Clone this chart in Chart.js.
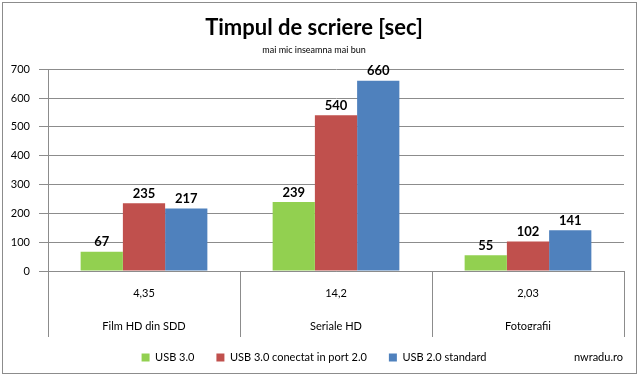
<!DOCTYPE html>
<html>
<head>
<meta charset="utf-8">
<script src="https://cdn.jsdelivr.net/npm/chart.js@4/dist/chart.umd.min.js"></script>
<style>
html,body{margin:0;padding:0;background:#fff;}
#wrap{width:639px;height:378px;position:relative;}
</style>
</head>
<body>
<div id="wrap"><canvas id="c" width="639" height="378"></canvas></div>
<script>
const categories = ["Film HD din SDD", "Seriale HD", "Fotografii"];
const sizes = ["4,35", "14,2", "2,03"];
const usb3 = [67, 239, 55];
const usb3in2 = [235, 540, 102];
const usb2 = [217, 660, 141];
const seriesNames = ["USB 3.0", "USB 3.0 conectat in port 2.0", "USB 2.0 standard"];
const yTicks = [0, 100, 200, 300, 400, 500, 600, 700];

const FONT = "Lato, 'Open Sans', sans-serif";

const frame = {
  id: 'frame',
  beforeDraw(chart) {
    const ctx = chart.ctx;
    ctx.save();
    ctx.fillStyle = '#fff';
    ctx.fillRect(0, 0, chart.width, chart.height);
    ctx.strokeStyle = '#8c8c8c';
    ctx.lineWidth = 1;
    ctx.strokeRect(2.5, 2.5, 634, 371);
    ctx.restore();
  },
  afterDraw(chart) {
    const ctx = chart.ctx;
    ctx.save();
    ctx.font = "11px " + FONT;
    ctx.fillStyle = '#000';
    ctx.textAlign = 'right';
    ctx.textBaseline = 'middle';
    ctx.fillText('nwradu.ro', 623, 357);
    ctx.restore();
  }
};

const valueLabels = {
  id: 'valueLabels',
  afterDatasetsDraw(chart) {
    const ctx = chart.ctx;
    ctx.save();
    ctx.font = "bold 13px " + FONT;
    ctx.fillStyle = '#000';
    ctx.textAlign = 'center';
    ctx.textBaseline = 'bottom';
    chart.data.datasets.forEach((ds, i) => {
      const meta = chart.getDatasetMeta(i);
      meta.data.forEach((bar, j) => {
        ctx.fillText(String(ds.data[j]), bar.x, bar.y - 3);
      });
    });
    ctx.restore();
  }
};

new Chart(document.getElementById('c'), {
  type: 'bar',
  data: {
    labels: categories.map((c, i) => [sizes[i], c]),
    datasets: [
      { label: seriesNames[0], data: usb3, backgroundColor: '#92D050' },
      { label: seriesNames[1], data: usb3in2, backgroundColor: '#C0504D' },
      { label: seriesNames[2], data: usb2, backgroundColor: '#4F81BD' }
    ]
  },
  options: {
    responsive: false,
    animation: false,
    devicePixelRatio: 1,
    layout: { padding: { left: 4, right: 15, top: 6, bottom: 5 } },
    datasets: { bar: { categoryPercentage: 0.66, barPercentage: 1.0 } },
    plugins: {
      title: {
        display: true,
        text: 'Timpul de scriere [sec]',
        color: '#000',
        font: { family: FONT, size: 22, weight: 'bold' },
        padding: { top: 9, bottom: 3 }
      },
      subtitle: {
        display: true,
        text: 'mai mic inseamna mai bun',
        color: '#000',
        font: { family: FONT, size: 9 },
        padding: { top: 0, bottom: 14 }
      },
      legend: {
        position: 'bottom',
        labels: {
          color: '#000',
          font: { family: FONT, size: 11 },
          boxWidth: 8,
          boxHeight: 8,
          padding: 22
        }
      },
      tooltip: { enabled: false }
    },
    scales: {
      x: {
        grid: {
          offset: true,
          drawOnChartArea: false,
          drawTicks: true,
          tickLength: 66,
          color: '#8c8c8c'
        },
        border: { color: '#8c8c8c' },
        ticks: {
          color: '#000',
          padding: -60.5,
          maxRotation: 0,
          font: { family: FONT, size: 11, lineHeight: 3 }
        },
        afterFit(scale) { scale.height = 59; }
      },
      y: {
        min: 0,
        max: 700,
        afterBuildTicks(scale) { scale.ticks = yTicks.map(v => ({ value: v })); },
        grid: { color: '#8c8c8c', tickLength: 9 },
        border: { color: '#8c8c8c' },
        ticks: {
          color: '#000',
          padding: 9,
          font: { family: FONT, size: 11 }
        },
        afterFit(scale) { scale.width = 44; }
      }
    }
  },
  plugins: [frame, valueLabels]
});
</script>
</body>
</html>
